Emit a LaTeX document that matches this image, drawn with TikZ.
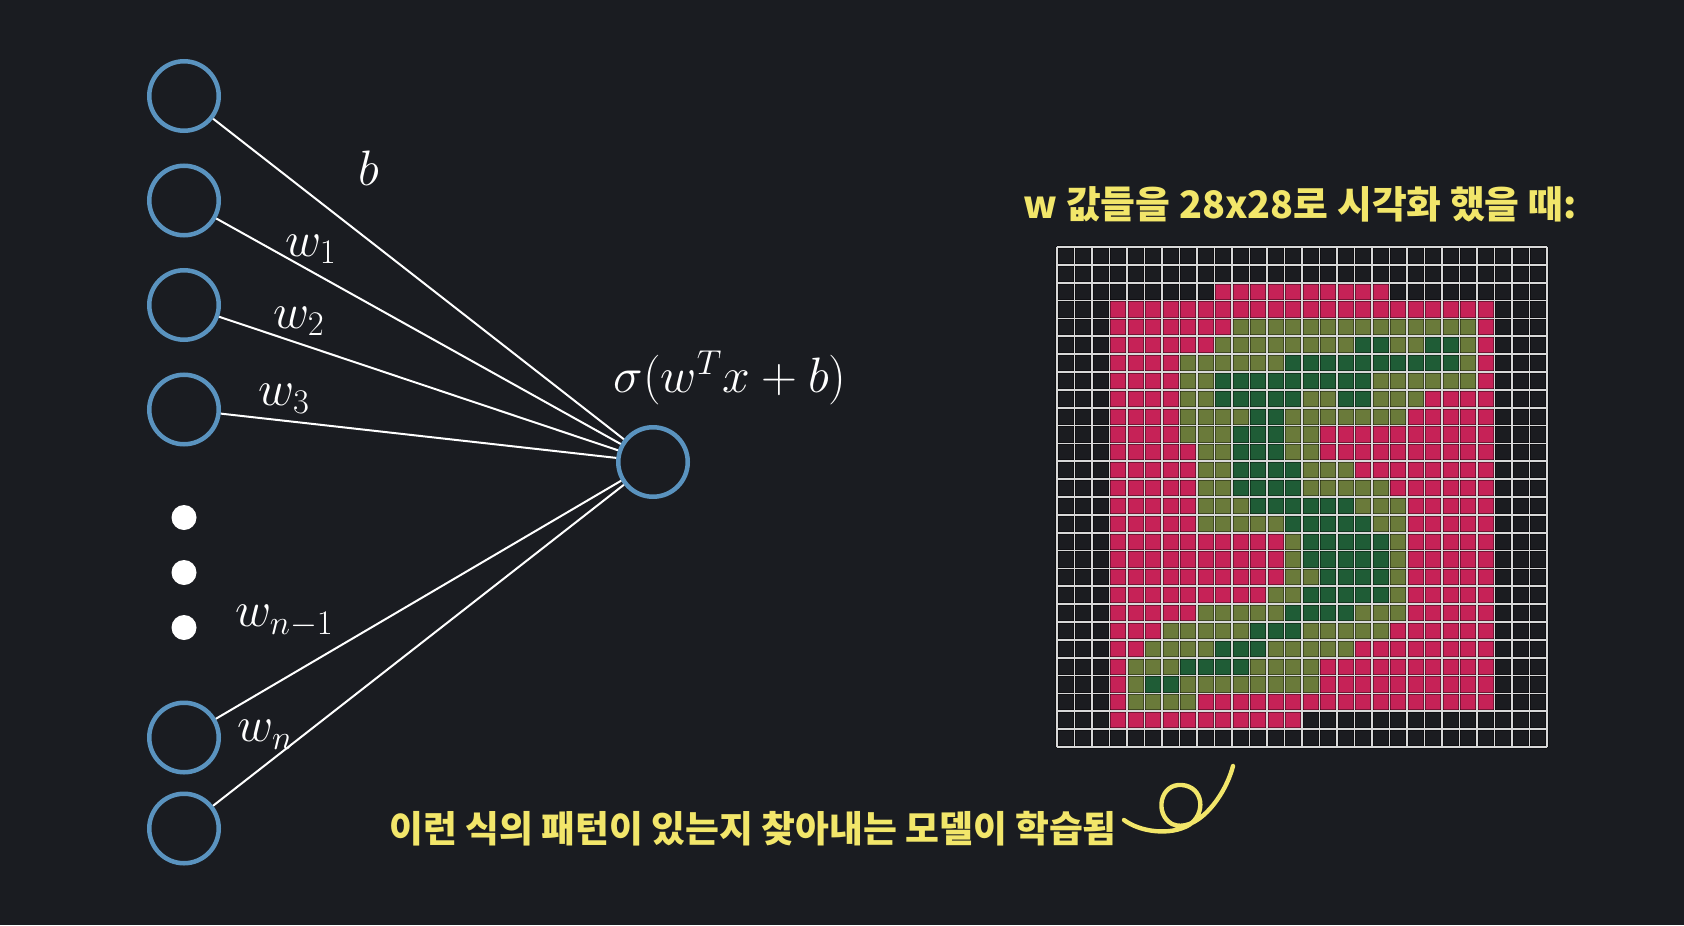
\documentclass[tikz,border=0pt]{standalone}
\usepackage{amsmath}
\usepackage{fontspec}
\usepackage{tikz}
\usetikzlibrary{positioning}
\newfontfamily\krfont{Noto Sans CJK KR}
\definecolor{bgdark}{HTML}{1A1C21}
\definecolor{ringblue}{HTML}{5A93BF}
\definecolor{notey}{HTML}{F2E66A}
\definecolor{cellred}{HTML}{C62257}
\definecolor{cellolive}{HTML}{6A7A3A}
\definecolor{cellgreen}{HTML}{1F5C36}
\definecolor{celldark}{HTML}{1B1C20}
\definecolor{gridline}{HTML}{D8D8D8}

\begin{document}
\begin{tikzpicture}[x=0.5pt,y=-0.5pt,on grid,auto,
  neuron/.style={circle,draw=ringblue,line width=2.25pt,minimum size=34.75pt,inner sep=0pt},
  vdot/.style={circle,fill=white,minimum size=12.5pt,inner sep=0pt},
  wlabel/.style={text=white,font=\fontsize{27}{30}\selectfont},
  note/.style={text=notey,font=\krfont\bfseries\fontsize{18.9}{22}\selectfont}]
	\fill[bgdark] (0,0) rectangle (1684,925);
	\useasboundingbox (0,0) rectangle (1684,925);

	% inputs
	\node[neuron] (x_1) at (184,96) {};
	\node[neuron] (x_2) [below=52.25pt of x_1] {};
	\node[neuron] (x_3) [below=52.25pt of x_2] {};
	\node[neuron] (x_4) [below=52.25pt of x_3] {};
	\node[vdot] (d_1) [below=54pt of x_4] {};
	\node[vdot] (d_2) [below=27.5pt of d_1] {};
	\node[vdot] (d_3) [below=27.5pt of d_2] {};
	\node[neuron] (x_5) [below=55pt of d_3] {};
	\node[neuron] (x_6) [below=45.5pt of x_5] {};

	% output
	\node[neuron] (out) at (653,462) {};
	\node[wlabel,font=\fontsize{25}{28}\selectfont] (act) at (730,378) {$\sigma(w^T x+b)$};

	\path[draw=white,line width=1pt]
	(x_1) edge node[wlabel,pos=.29,above right=13pt] {$b$} (out)
	(x_2) edge node[wlabel,pos=.234,above] {$w_1$} (out)
	(x_3) edge node[wlabel,pos=.2,above] {$w_2$} (out)
	(x_4) edge node[wlabel,pos=.16,above] {$w_3$} (out)
	(x_5) edge node[wlabel,pos=.31,above left] {$w_{n-1}$} (out)
	(x_6) edge node[wlabel,pos=.127,above=4pt] {$w_n$} (out);

	% 28x28 weights
	\begin{scope}[shift={(1057,247)},x=8.75pt,y=-8.9285pt]
		\fill[celldark] (0,0) rectangle (28,28);
		\fill[cellred] (9,2) rectangle (19,3);
		\fill[cellred] (3,3) rectangle (25,26);
		\fill[cellred] (3,26) rectangle (14,27);
		\foreach \r/\a/\b in {4/10/23,5/9/23,6/7/23,7/7/23,8/7/20,9/7/19,10/7/14,11/8/14,
			12/8/16,13/8/18,14/8/19,15/8/19,16/13/19,17/13/19,18/13/19,19/12/19,
			20/8/19,21/6/18,22/5/16,23/4/14,24/4/14,25/4/7}
			\fill[cellolive] (\a,\r) rectangle (\b+1,\r+1);
		\foreach \r/\a/\b in {5/17/18,5/21/22,6/13/22,7/9/17,8/9/13,8/16/17,9/11/12,10/10/12,
			11/10/12,12/10/13,13/10/13,14/11/16,15/13/17,16/14/18,17/14/18,18/15/18,
			19/14/18,20/13/16,21/11/13,22/9/11,23/7/10,24/5/6}
			\fill[cellgreen] (\a,\r) rectangle (\b+1,\r+1);
		\foreach \i in {0,...,28} {
			\draw[black,opacity=.4,line width=1.9pt] (\i,0) -- (\i,28);
			\draw[black,opacity=.4,line width=1.9pt] (0,\i) -- (28,\i);
		}
		\foreach \i in {0,...,28} {
			\draw[gridline,line width=.85pt] (\i,0) -- (\i,28);
			\draw[gridline,line width=.85pt] (0,\i) -- (28,\i);
		}
	\end{scope}

	\node[note] (title) at (1300,204) {w 값들을 28x28로 시각화 했을 때:};
	\node[note,font=\krfont\bfseries\fontsize{18.4}{21}\selectfont] (caption) at (753,829) {이런 식의 패턴이 있는지 찾아내는 모델이 학습됨};
	% swirl
	\draw[notey,line width=2.2pt,line cap=round]
	(1124,820) .. controls (1140,832) and (1170,836) .. (1189,825)
	.. controls (1206,814) and (1204,787) .. (1182,785)
	.. controls (1160,783) and (1154,814) .. (1172,824)
	.. controls (1194,834) and (1224,800) .. (1233,766);
\end{tikzpicture}
\end{document}
